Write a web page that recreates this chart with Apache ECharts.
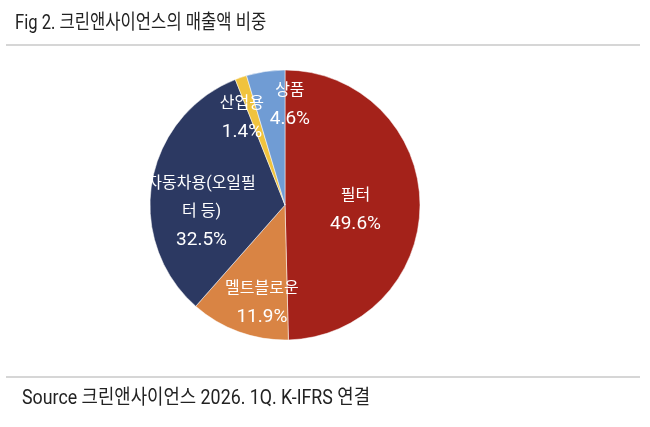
<!DOCTYPE html>
<html>
<head>
<meta charset="utf-8">
<script src="https://cdn.jsdelivr.net/npm/echarts@6/dist/echarts.min.js"></script>
<style>
  html, body { margin: 0; padding: 0; background: #fff; }
  #chart { width: 650px; height: 427px; }
</style>
</head>
<body>
<div id="chart"></div>
<script>
// 매출 비중 (%), 12시 방향부터 시계방향
const names = ['필터', '멜트블로운', '자동차용(오일필\n터 등)', '산업용', '상품'];
const shares = [49.6, 11.9, 32.5, 1.4, 4.6];
const colors = ['#A4221A', '#D98444', '#2C3962', '#F0C33E', '#709CD4'];
// 라벨 위치 미세조정 (엑셀 원본처럼 바깥쪽으로)
const labelShift = [[0, 6], [1, 32], [-14, 19], [-20, -20], [15, -30]];

const chart = echarts.init(document.getElementById('chart'));
const font = 'Roboto, "Noto Sans CJK KR", sans-serif';

const option = {
  animation: false,
  graphic: [
    {
      type: 'text', x: 15, y: 24, scaleX: 0.83,
      style: { text: 'Fig 2. 크린앤사이언스의 매출액 비중', font: '20px ' + font, fill: '#222', verticalAlign: 'middle' }
    },
    { type: 'line', shape: { x1: 6, y1: 45, x2: 640, y2: 45 }, style: { stroke: '#c8c8c8', lineWidth: 1.5 } },
    { type: 'line', shape: { x1: 6, y1: 377, x2: 640, y2: 377 }, style: { stroke: '#c8c8c8', lineWidth: 1.5 } },
    {
      type: 'text', x: 22, y: 399, scaleX: 0.89,
      style: { text: 'Source 크린앤사이언스 2026. 1Q. K-IFRS 연결', font: '20px ' + font, fill: '#222', verticalAlign: 'middle' }
    }
  ],
  series: [{
    type: 'pie',
    center: [285, 205],
    radius: 135,
    startAngle: 90,
    clockwise: true,
    data: names.map((n, i) => ({ name: n, value: shares[i], itemStyle: { color: colors[i] } })),
    itemStyle: { borderColor: '#fff', borderWidth: 0.5 },
    label: {
      position: 'inside',
      formatter: p => p.name.split('\n').map(s => '{n|' + s + '}').join('\n') +
        '\n{v|' + p.value.toFixed(1) + '%}',
      color: '#fff',
      overflow: 'none',
      rich: {
        n: { color: '#fff', fontFamily: font, fontSize: 16, lineHeight: 28 },
        v: { color: '#fff', fontFamily: font, fontSize: 19, lineHeight: 28 }
      }
    },
    labelLine: { show: false },
    labelLayout: p => ({ dx: labelShift[p.dataIndex][0], dy: labelShift[p.dataIndex][1] })
  }]
};

chart.setOption(option);
</script>
</body>
</html>
